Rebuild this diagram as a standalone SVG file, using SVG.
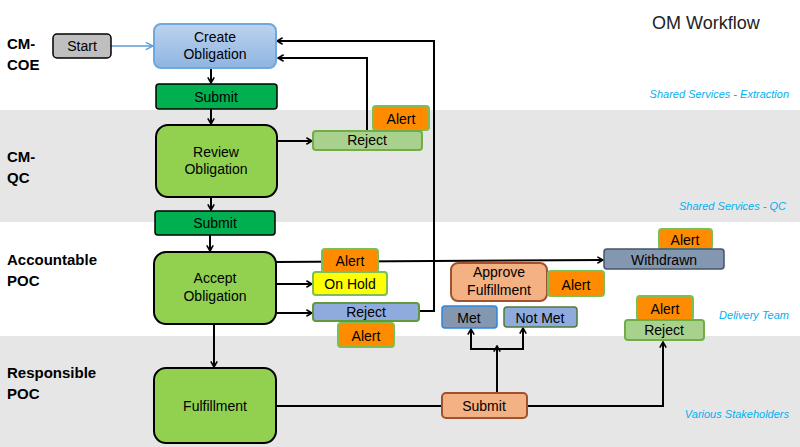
<svg xmlns="http://www.w3.org/2000/svg" width="800" height="447" viewBox="0 0 800 447">
<defs>
<linearGradient id="gBlue" x1="0" y1="0" x2="0" y2="1">
<stop offset="0" stop-color="#bcd3ee"/>
<stop offset="1" stop-color="#8fb4e1"/>
</linearGradient>
<marker id="arr" viewBox="0 0 10 10" refX="9" refY="5" markerWidth="8" markerHeight="8" orient="auto" markerUnits="userSpaceOnUse">
<path d="M2,1 L9,5 L2,9" fill="none" stroke="#000" stroke-width="2"/>
</marker>
<marker id="arrB" viewBox="0 0 10 10" refX="9" refY="5" markerWidth="9" markerHeight="9" orient="auto" markerUnits="userSpaceOnUse">
<path d="M1,1 L9,5 L1,9" fill="none" stroke="#5b9bd5" stroke-width="1.5"/>
</marker>
</defs>
<style>
text{font-family:"Liberation Sans",Arial,sans-serif;}
.lane{font-size:15px;font-weight:bold;fill:#000;}
.lbl{font-size:14px;fill:#000;text-anchor:middle;}
.note{font-size:11px;font-style:italic;fill:#00b0f0;text-anchor:end;}
.title{font-size:18px;fill:#222;}
.con{fill:none;stroke:#000;stroke-width:2;}
.big{fill:#92d050;stroke:#000;stroke-width:2;}
.sub{fill:#00b050;stroke:#000;stroke-width:1.5;}
.alert{fill:#ff8c00;stroke:#7dbf55;stroke-width:2;}
.rejg{fill:#a9d18e;stroke:#70ad47;stroke-width:2;}
.peach{fill:#f4b183;stroke:#a0522d;stroke-width:2;}
</style>
<g id="lanes">
<rect x="0" y="0" width="800" height="110" fill="#ffffff"/>
<rect x="0" y="110" width="800" height="112" fill="#e6e6e6"/>
<rect x="0" y="222" width="800" height="114" fill="#ffffff"/>
<rect x="0" y="336" width="800" height="111" fill="#e6e6e6"/>
<text class="lane" x="7" y="49">CM-</text>
<text class="lane" x="7" y="70">COE</text>
<text class="lane" x="7" y="162">CM-</text>
<text class="lane" x="7" y="183">QC</text>
<text class="lane" x="7" y="265">Accountable</text>
<text class="lane" x="7" y="286">POC</text>
<text class="lane" x="7" y="378">Responsible</text>
<text class="lane" x="7" y="399">POC</text>
<text class="title" x="652" y="29">OM Workflow</text>
<text class="note" x="789" y="98">Shared Services - Extraction</text>
<text class="note" x="786" y="210">Shared Services - QC</text>
<text class="note" x="789" y="319">Delivery Team</text>
<text class="note" x="789" y="418">Various Stakeholders</text>
</g>
<g id="connectors">
<line x1="111" y1="46" x2="153" y2="46" fill="none" stroke="#5b9bd5" stroke-width="1.5" marker-end="url(#arrB)"/>
<line class="con" x1="211" y1="68" x2="211" y2="83" marker-end="url(#arr)"/>
<line class="con" x1="211" y1="109" x2="211" y2="124" marker-end="url(#arr)"/>
<line class="con" x1="277" y1="141" x2="312" y2="141" marker-end="url(#arr)"/>
<polyline class="con" points="367,131 367,58 278,58" marker-end="url(#arr)"/>
<polyline class="con" points="419,311 434,311 434,41 277,41" marker-end="url(#arr)"/>
<line class="con" x1="211" y1="197" x2="211" y2="210" marker-end="url(#arr)"/>
<line class="con" x1="210" y1="235" x2="210" y2="251" marker-end="url(#arr)"/>
<line class="con" x1="276" y1="262" x2="603" y2="260" marker-end="url(#arr)"/>
<line class="con" x1="276" y1="284" x2="312" y2="284" marker-end="url(#arr)"/>
<line class="con" x1="276" y1="313" x2="312" y2="313" marker-end="url(#arr)"/>
<line class="con" x1="214" y1="324" x2="214" y2="367" marker-end="url(#arr)"/>
<line class="con" x1="276" y1="406" x2="443" y2="406"/>
<polyline class="con" points="527,406 663,406 663,342" marker-end="url(#arr)"/>
<line class="con" x1="497" y1="393" x2="497" y2="346" marker-end="url(#arr)"/>
<polyline class="con" points="471,329 471,349 523,349 523,328" />
<line class="con" x1="471" y1="349" x2="471" y2="329" marker-end="url(#arr)"/>
<line class="con" x1="523" y1="349" x2="523" y2="328" marker-end="url(#arr)"/>
</g>
<g id="start">
<rect x="53" y="34" width="58" height="24" rx="4" fill="#bfbfbf" stroke="#000" stroke-width="1.5"/>
<text class="lbl" x="82" y="51">Start</text>
</g>
<g id="create">
<rect x="154" y="24" width="122" height="44" rx="7" fill="url(#gBlue)" stroke="#6fa8dc" stroke-width="2"/>
<text class="lbl" x="215" y="42">Create</text>
<text class="lbl" x="215" y="59">Obligation</text>
</g>
<g id="submit1">
<rect x="156" y="84" width="121" height="25" rx="3" class="sub"/>
<text class="lbl" x="216" y="102">Submit</text>
</g>
<g id="review">
<rect x="156" y="125" width="121" height="72" rx="12" class="big"/>
<text class="lbl" x="216" y="157">Review</text>
<text class="lbl" x="216" y="174">Obligation</text>
</g>
<g id="alert1">
<rect x="373" y="106" width="56" height="24" rx="3" class="alert"/>
<text class="lbl" x="401" y="124">Alert</text>
</g>
<g id="reject1">
<rect x="313" y="131" width="109" height="19" rx="3" class="rejg"/>
<text class="lbl" x="367" y="145">Reject</text>
</g>
<g id="submit2">
<rect x="155" y="211" width="120" height="24" rx="3" class="sub"/>
<text class="lbl" x="215" y="228">Submit</text>
</g>
<g id="accept">
<rect x="154" y="252" width="122" height="72" rx="12" class="big"/>
<text class="lbl" x="215" y="283">Accept</text>
<text class="lbl" x="215" y="301">Obligation</text>
</g>
<g id="alert2">
<rect x="322" y="249" width="56" height="23" rx="3" class="alert"/>
<text class="lbl" x="350" y="266">Alert</text>
</g>
<g id="onhold">
<rect x="313" y="272" width="74" height="23" rx="3" fill="#ffff00" stroke="#7dbf55" stroke-width="2"/>
<text class="lbl" x="350" y="289">On Hold</text>
</g>
<g id="reject2">
<rect x="313" y="303" width="106" height="18" rx="3" fill="#8faadc" stroke="#5f9a3f" stroke-width="2"/>
<text class="lbl" x="366" y="317">Reject</text>
</g>
<g id="alert3">
<rect x="338" y="323" width="56" height="24" rx="3" class="alert"/>
<text class="lbl" x="366" y="341">Alert</text>
</g>
<g id="fulfillment">
<rect x="154" y="368" width="122" height="75" rx="12" class="big"/>
<text class="lbl" x="215" y="411">Fulfillment</text>
</g>
<g id="alert6">
<rect x="659" y="229" width="53" height="20" rx="3" class="alert"/>
<text class="lbl" x="685" y="245">Alert</text>
</g>
<g id="withdrawn">
<rect x="604" y="249" width="120" height="20" rx="3" fill="#8497b0" stroke="#44546a" stroke-width="1.5"/>
<text class="lbl" x="664" y="265">Withdrawn</text>
</g>
<g id="approve">
<rect x="451" y="263" width="96" height="38" rx="7" class="peach"/>
<text class="lbl" x="499" y="277">Approve</text>
<text class="lbl" x="499" y="295">Fulfillment</text>
</g>
<g id="alert5">
<rect x="548" y="271" width="56" height="25" rx="3" class="alert"/>
<text class="lbl" x="576" y="290">Alert</text>
</g>
<g id="met">
<rect x="442" y="306" width="55" height="22" rx="3" fill="#8497b0" stroke="#2e86de" stroke-width="1.5"/>
<text class="lbl" x="469" y="323">Met</text>
</g>
<g id="notmet">
<rect x="504" y="307" width="73" height="20" rx="3" fill="#8faadc" stroke="#4f7a3a" stroke-width="1.5"/>
<text class="lbl" x="540" y="323">Not Met</text>
</g>
<g id="alert4">
<rect x="637" y="296" width="56" height="24" rx="3" class="alert"/>
<text class="lbl" x="665" y="314">Alert</text>
</g>
<g id="reject3">
<rect x="625" y="320" width="79" height="20" rx="3" class="rejg"/>
<text class="lbl" x="664" y="335">Reject</text>
</g>
<g id="submit3">
<rect x="442" y="393" width="85" height="25" rx="4" class="peach"/>
<text class="lbl" x="484" y="411">Submit</text>
</g>
</svg>
